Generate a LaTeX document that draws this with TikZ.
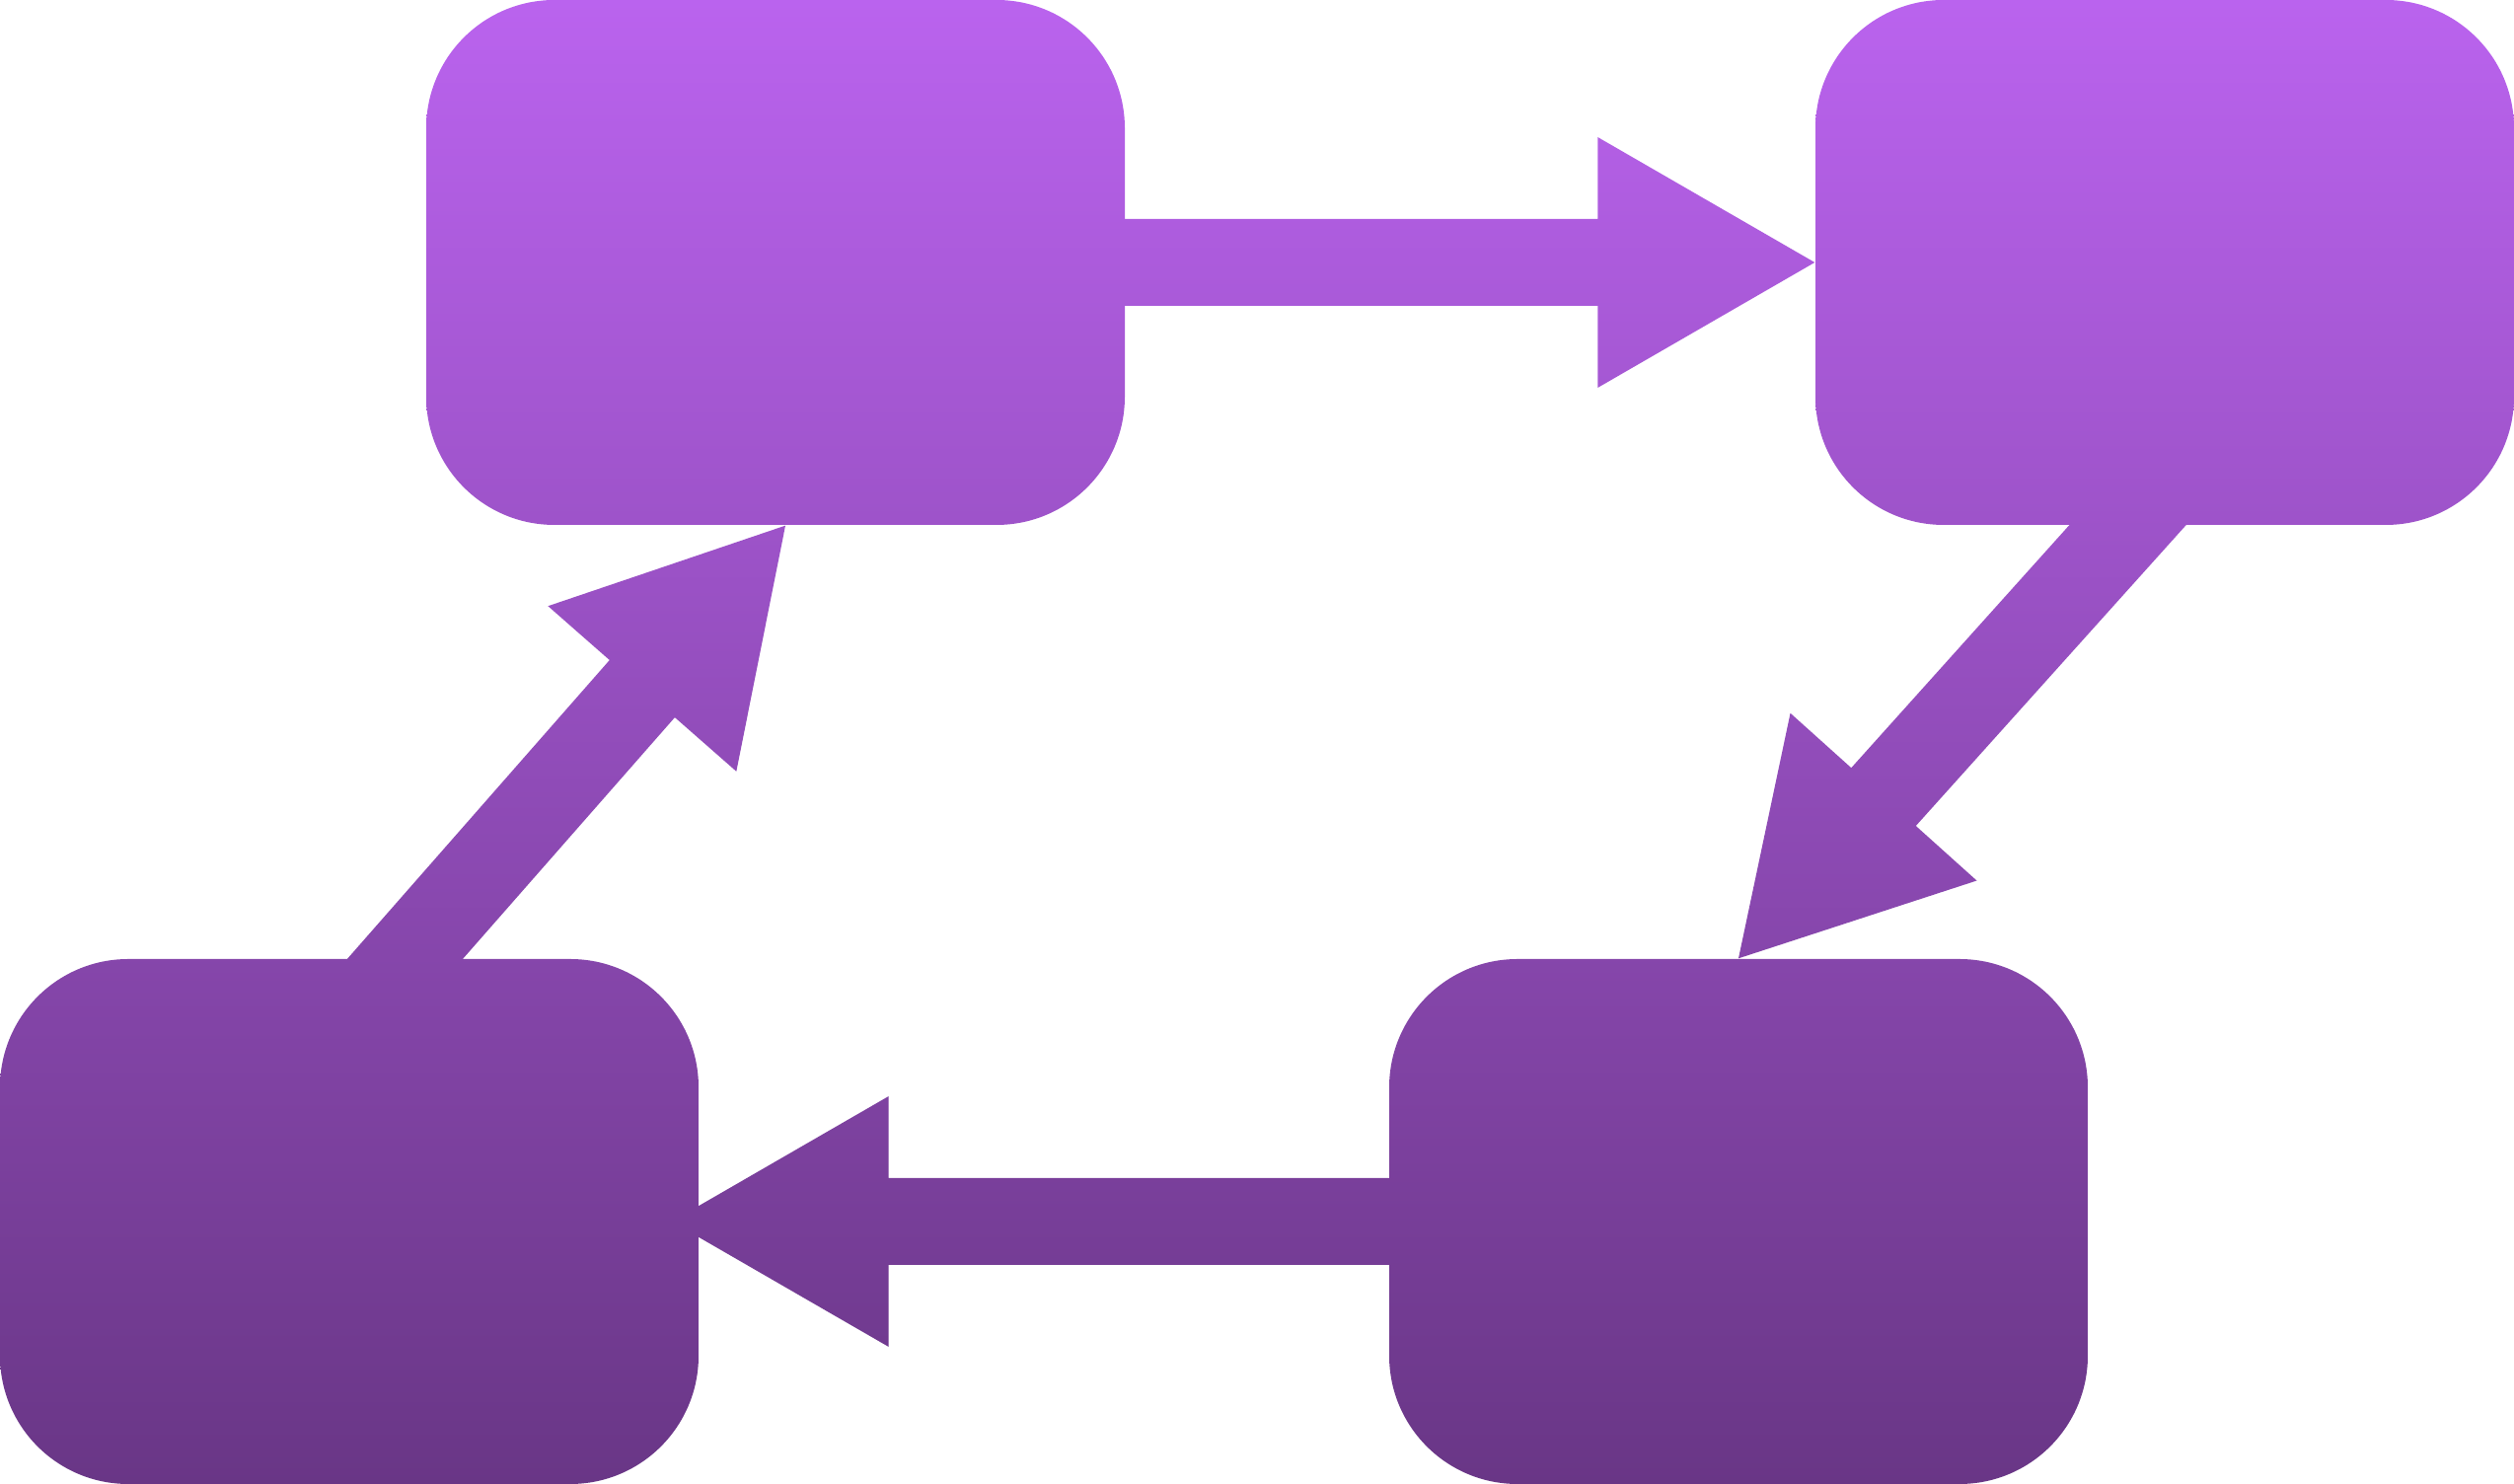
\documentclass[tikz,border=0pt]{standalone}
\usepackage{tikz}
\usetikzlibrary{calc}

\definecolor{violetTop}{RGB}{186,99,238}
\definecolor{violetBot}{RGB}{105,54,134}

\tikzset{
  grad/.style={path picture={\shade[top color=violetTop,bottom color=violetBot] (sheet sw) rectangle (sheet ne);}},
  stage/.style={grad, rectangle, rounded corners=1.3cm, minimum width=7.08cm, minimum height=5.32cm, inner sep=0pt}
}

% fat arrow with a triangular head, from #1 to #2
\newcommand{\blockarrow}[2]{%
  \coordinate (tail) at ($(#1)!-0.6cm!(#2)$);
  \coordinate (neck) at ($(#2)!2.2cm!(#1)$);
  \path[grad] ($(tail)!0.44cm!90:(#2)$) -- ($(neck)!0.44cm!90:(#2)$)
     -- ($(neck)!1.27cm!90:(#2)$) -- (#2) -- ($(neck)!1.27cm!-90:(#2)$)
     -- ($(neck)!0.44cm!-90:(#2)$) -- ($(tail)!0.44cm!-90:(#2)$) -- cycle;
}

\begin{document}
\begin{tikzpicture}
    \useasboundingbox (0,0) rectangle (25.48,15.04);
    \coordinate (sheet sw) at (0,0);
    \coordinate (sheet ne) at (25.48,15.04);

    % the four boxes
    \coordinate (topleft) at (7.86,12.38);
    \coordinate (topright) at (21.94,12.38);
    \coordinate (botright) at (17.62,2.66);
    \coordinate (botleft) at (3.54,2.66);

    % arrows go first, boxes sit on top of them
    \path (topleft) node[minimum width=7.08cm, minimum height=5.32cm, inner sep=0pt] (tl) {};
    \path (topright) node[minimum width=7.08cm, minimum height=5.32cm, inner sep=0pt] (tr) {};
    \path (botright) node[minimum width=7.08cm, minimum height=5.32cm, inner sep=0pt] (br) {};
    \path (botleft) node[minimum width=7.08cm, minimum height=5.32cm, inner sep=0pt] (bl) {};

    \blockarrow{tl.east}{tr.west}
    \coordinate (downstart) at ($(tr.south)+(-0.38,0)$);
    \blockarrow{downstart}{br.north}
    \coordinate (backtip) at ($(bl.east)+(-0.28,0)$);
    \blockarrow{br.west}{backtip}
    \coordinate (upstart) at ($(bl.north)+(0.57,0)$);
    \coordinate (uptip) at ($(tl.south)+(0.10,0)$);
    \blockarrow{upstart}{uptip}

    \node[stage] (plan) at (topleft) {};
    \node[stage] (doit) at (topright) {};
    \node[stage] (check) at (botright) {};
    \node[stage] (act) at (botleft) {};
\end{tikzpicture}
\end{document}
